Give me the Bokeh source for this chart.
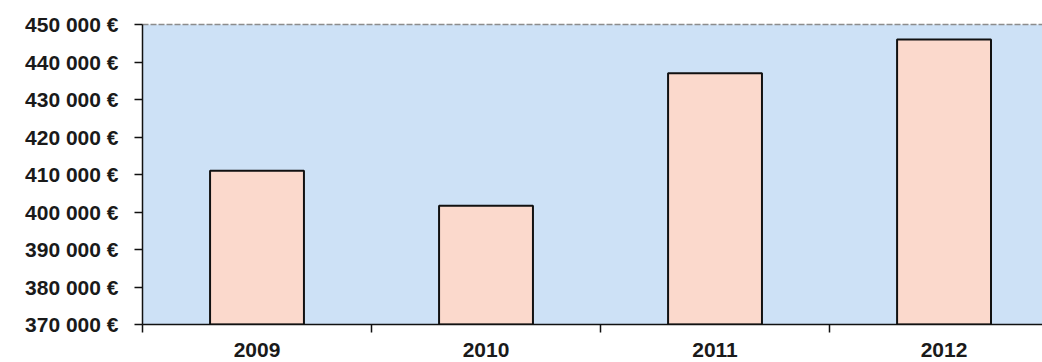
from bokeh.plotting import figure
from bokeh.models import Range1d, FixedTicker, LinearAxis
from bokeh.embed import file_html
from bokeh.resources import INLINE

# ---- data ----
categories = ["2009", "2010", "2011", "2012"]
values = [411000, 401700, 437000, 446000]
y_ticks = [370000, 380000, 390000, 400000, 410000, 420000, 430000, 440000, 450000]

y_min, y_max = y_ticks[0], y_ticks[-1]
centers = [i + 0.5 for i in range(len(categories))]
bounds = [float(i) for i in range(len(categories))]

p = figure(width=1042, height=362, output_backend="svg", toolbar_location=None,
           x_range=Range1d(0, 3.93), y_range=Range1d(y_min, y_max),
           min_border_left=142, min_border_right=0, min_border_top=24, min_border_bottom=38)
p.background_fill_color = "#CDE1F6"
p.border_fill_color = "white"
p.outline_line_color = None
p.grid.visible = False

p.vbar(x=centers, top=values, bottom=y_min, width=0.41,
       fill_color="#FBD9CC", line_color="#111111", line_width=2)

# y axis
ya = p.yaxis[0]
ya.ticker = FixedTicker(ticks=y_ticks)
ya.major_label_overrides = {t: f"{t:,}".replace(",", " ") + " €" for t in y_ticks}
ya.major_tick_out = 8
ya.major_tick_in = 0
ya.minor_tick_out = 0
ya.minor_tick_in = 0
ya.axis_line_color = "#111111"
ya.axis_line_width = 1.5
ya.major_tick_line_color = "#111111"
ya.major_tick_line_width = 1.5
ya.major_label_standoff = 16
ya.major_label_text_font = "Liberation Sans"
ya.major_label_text_font_style = "bold"
ya.major_label_text_font_size = "21px"
ya.major_label_text_color = "#1a1a1a"

# x axis
xa = p.xaxis[0]
xa.ticker = FixedTicker(ticks=centers, minor_ticks=bounds)
xa.major_label_overrides = {c: lab for c, lab in zip(centers, categories)}
xa.major_tick_out = 0
xa.major_tick_in = 0
xa.minor_tick_out = 8
xa.minor_tick_in = 0
xa.minor_tick_line_color = "#111111"
xa.minor_tick_line_width = 1.5
xa.axis_line_color = "#111111"
xa.axis_line_width = 1.5
xa.major_label_standoff = 10
xa.major_label_text_font = "Liberation Sans"
xa.major_label_text_font_style = "bold"
xa.major_label_text_font_size = "21px"
xa.major_label_text_color = "#1a1a1a"

# dashed grey top border
top = LinearAxis(ticker=FixedTicker(ticks=[]), axis_line_color="#8c8c8c",
                 axis_line_width=1.5, axis_line_dash="6 2",
                 major_tick_out=0, major_tick_in=0, minor_tick_out=0, minor_tick_in=0,
                 major_label_text_font_size="0px", major_label_standoff=0)
p.add_layout(top, "above")

open("out.html", "w").write(file_html(p, INLINE))
